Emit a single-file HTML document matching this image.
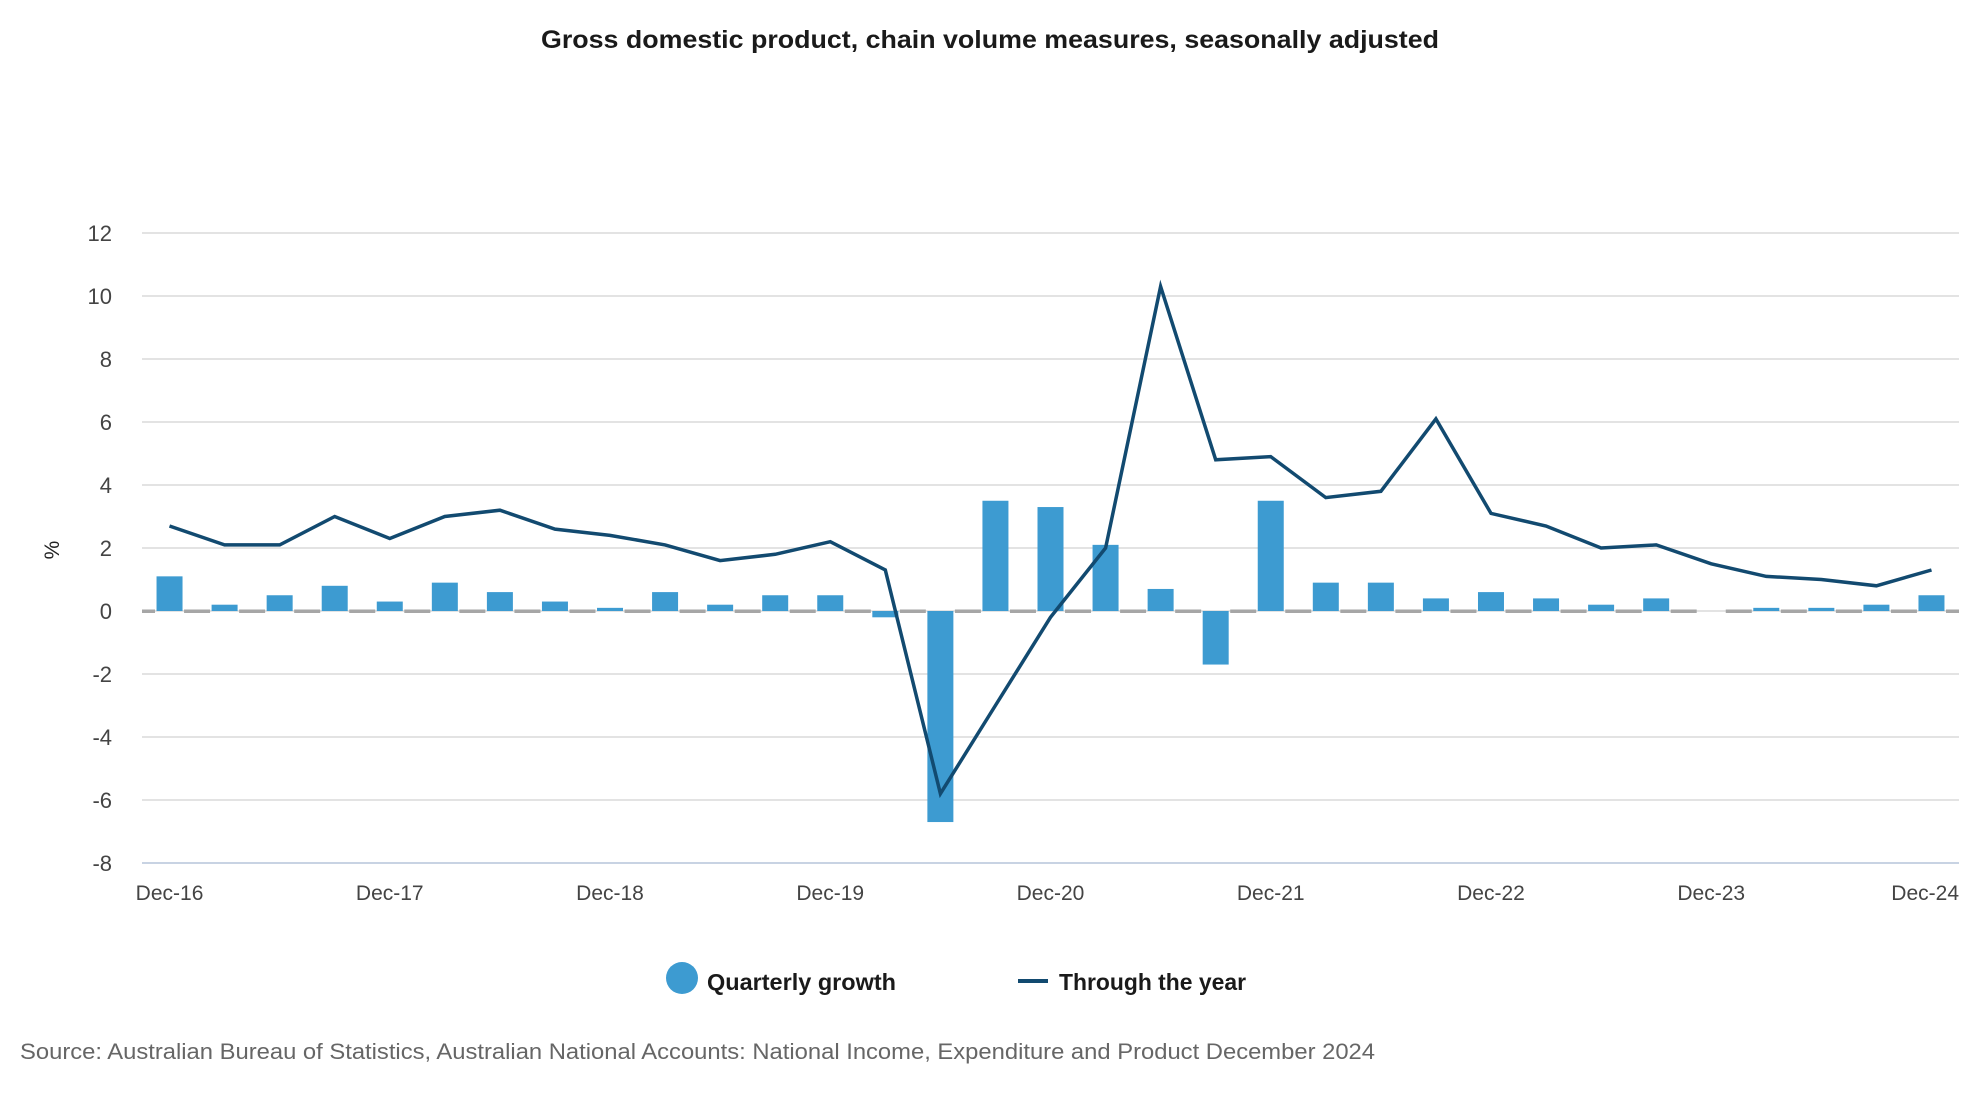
<!DOCTYPE html>
<html><head><meta charset="utf-8"><style>
html,body{margin:0;padding:0;background:#fff;}
svg{display:block;font-family:"Liberation Sans",sans-serif;}
</style></head><body>
<svg id="chart" width="1980" height="1100" viewBox="0 0 1980 1100">
<text x="990" y="48" text-anchor="middle" font-size="25" font-weight="bold" fill="#1a1a1a" textLength="898" lengthAdjust="spacingAndGlyphs">Gross domestic product, chain volume measures, seasonally adjusted</text>
<g id="grid"></g><g id="zero"></g><g id="bars"></g><g id="line"></g><g id="yticks"></g><g id="xticks"></g>
<text transform="translate(59,550) rotate(-90)" text-anchor="middle" font-size="21" fill="#222">%</text>
<g>
<g>
<circle cx="682" cy="978" r="16" fill="#3d9bd1"/>
<text x="707" y="990" font-size="23" font-weight="bold" fill="#1a1a1a" textLength="189" lengthAdjust="spacingAndGlyphs">Quarterly growth</text></g>
<g>
<rect x="1018" y="979" width="30" height="4" fill="#124a70"/>
<text x="1059" y="990" font-size="23" font-weight="bold" fill="#1a1a1a" textLength="187" lengthAdjust="spacingAndGlyphs">Through the year</text></g>
</g>
<text x="20" y="1059" font-size="22" fill="#666" textLength="1355" lengthAdjust="spacingAndGlyphs">Source: Australian Bureau of Statistics, Australian National Accounts: National Income, Expenditure and Product December 2024</text>
</svg>
<script>
const quarters = ["Dec-16","Mar-17","Jun-17","Sep-17","Dec-17","Mar-18","Jun-18","Sep-18","Dec-18","Mar-19","Jun-19","Sep-19","Dec-19","Mar-20","Jun-20","Sep-20","Dec-20","Mar-21","Jun-21","Sep-21","Dec-21","Mar-22","Jun-22","Sep-22","Dec-22","Mar-23","Jun-23","Sep-23","Dec-23","Mar-24","Jun-24","Sep-24","Dec-24"];
const quarterlyGrowth = [1.1,0.2,0.5,0.8,0.3,0.9,0.6,0.3,0.1,0.6,0.2,0.5,0.5,-0.2,-6.7,3.5,3.3,2.1,0.7,-1.7,3.5,0.9,0.9,0.4,0.6,0.4,0.2,0.4,0.0,0.1,0.1,0.2,0.5];
const throughYear = [2.7,2.1,2.1,3.0,2.3,3.0,3.2,2.6,2.4,2.1,1.6,1.8,2.2,1.3,-5.8,-3.0,-0.2,2.0,10.3,4.8,4.9,3.6,3.8,6.1,3.1,2.7,2.0,2.1,1.5,1.1,1.0,0.8,1.3];
const yTicks = [12,10,8,6,4,2,0,-2,-4,-6,-8];
const xTickLabels = ["Dec-16","Dec-17","Dec-18","Dec-19","Dec-20","Dec-21","Dec-22","Dec-23","Dec-24"];

const NS="http://www.w3.org/2000/svg";
const L=142,R=1959,T=233,B=863,yMin=-8,yMax=12;
const band=(R-L)/quarters.length;
function xC(i){return L+band*(i+0.5);}
function y(v){return B-(v-yMin)/(yMax-yMin)*(B-T);}
function mk(tag,attrs,parent){const e=document.createElementNS(NS,tag);for(const k in attrs)e.setAttribute(k,attrs[k]);parent.appendChild(e);return e;}
const g=id=>document.getElementById(id);

yTicks.forEach(v=>{
  const ln=mk('line',{x1:L,x2:R,y1:y(v),y2:y(v),stroke:v===yMin?'#c8d3e3':'#e3e3e3','stroke-width':2},g('grid'));
  
  
  const t=mk('text',{x:112,y:y(v)+8,'text-anchor':'end','font-size':22,fill:'#444'},g('yticks'));
  t.textContent=v;
  
  
});
for(let i=0;i<=quarters.length;i++){
  const x0=Math.max(L,L+band*i-13),x1=Math.min(R,L+band*i+13);
  const s=mk('rect',{x:x0,y:y(0)-1.5,width:x1-x0,height:3.5,fill:'#a6a6a6'},g('zero'));
  
  
}
quarterlyGrowth.forEach((v,i)=>{
  if(v===0)return;
  const y0=y(0),y1=y(v);
  const r=mk('rect',{x:xC(i)-13,y:Math.min(y0,y1),width:26,height:Math.abs(y1-y0),fill:'#3d9bd1'},g('bars'));
  
  
});
const pts=throughYear.map((v,i)=>xC(i).toFixed(1)+','+y(v).toFixed(1)).join(' ');
const pl=mk('polyline',{points:pts,fill:'none',stroke:'#124a70','stroke-width':3.5,'stroke-linejoin':'miter'},g('line'));


xTickLabels.forEach(lbl=>{
  const i=quarters.indexOf(lbl);
  let x=xC(i),anchor='middle';
  if(i===quarters.length-1){x=R;anchor='end';}
  const t=mk('text',{x:x,y:900,'text-anchor':anchor,'font-size':21,fill:'#444'},g('xticks'));
  t.textContent=lbl;
  
  
});
</script>
</body></html>
